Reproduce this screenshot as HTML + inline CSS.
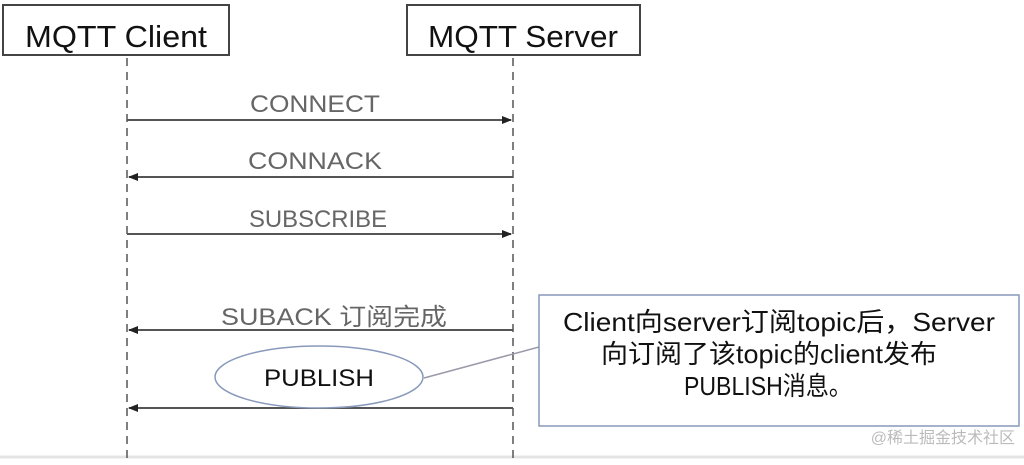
<!DOCTYPE html>
<html><head><meta charset="utf-8"><style>
body{margin:0;background:#fff;}
svg text{font-family:"Liberation Sans","Noto Sans CJK SC",sans-serif;}
</style></head><body>
<svg width="1024" height="460" viewBox="0 0 1024 460" xmlns="http://www.w3.org/2000/svg">
<defs><marker id="a" markerWidth="10" markerHeight="8" refX="9" refY="4" orient="auto" markerUnits="userSpaceOnUse"><path d="M0,0 L10,4 L0,8 z" fill="#222"/></marker></defs>
<rect x="0" y="0" width="1024" height="460" fill="#fff"/>
<line x1="0" y1="457" x2="1024" y2="457" stroke="#e4e4e4" stroke-width="3"/>
<rect x="3" y="5" width="226" height="50" fill="#fff" stroke="#444" stroke-width="2"/>
<text x="116" y="47" font-size="31" text-anchor="middle" fill="#111" textLength="182" lengthAdjust="spacingAndGlyphs">MQTT Client</text>
<rect x="407" y="5" width="233" height="50" fill="#fff" stroke="#444" stroke-width="2"/>
<text x="523" y="47" font-size="31" text-anchor="middle" fill="#111" textLength="190" lengthAdjust="spacingAndGlyphs">MQTT Server</text>
<line x1="127" y1="58" x2="127" y2="460" stroke="#555" stroke-width="1.5" stroke-dasharray="8,6"/>
<line x1="513" y1="58" x2="513" y2="460" stroke="#555" stroke-width="1.5" stroke-dasharray="8,6"/>
<g stroke="#555" stroke-width="2" marker-end="url(#a)">
<line x1="127" y1="120" x2="511" y2="120"/>
<line x1="513" y1="177" x2="129" y2="177"/>
<line x1="127" y1="234" x2="511" y2="234"/>
<line x1="513" y1="330" x2="129" y2="330"/>
<line x1="513" y1="408" x2="129" y2="408"/>
</g>
<g font-size="24" fill="#666" text-anchor="middle">
<text x="315" y="112" textLength="130" lengthAdjust="spacingAndGlyphs">CONNECT</text>
<text x="315" y="169" textLength="134" lengthAdjust="spacingAndGlyphs">CONNACK</text>
<text x="318" y="227" textLength="138" lengthAdjust="spacingAndGlyphs">SUBSCRIBE</text>
<text x="334" y="325" textLength="226" lengthAdjust="spacingAndGlyphs">SUBACK 订阅完成</text>
</g>
<ellipse cx="319" cy="377" rx="104" ry="31" fill="#fff" stroke="#8899bb" stroke-width="1.5"/>
<text x="319" y="386" font-size="24" text-anchor="middle" fill="#111" textLength="110" lengthAdjust="spacingAndGlyphs">PUBLISH</text>
<line x1="424" y1="378" x2="539" y2="347" stroke="#99a" stroke-width="1.5"/>
<rect x="539" y="295" width="480" height="131" fill="#fff" stroke="#8899bb" stroke-width="1.5"/>
<g font-size="26" fill="#111" text-anchor="middle">
<text x="779" y="331" textLength="432" lengthAdjust="spacingAndGlyphs">Client向server订阅topic后，Server</text>
<text x="769" y="363" textLength="336" lengthAdjust="spacingAndGlyphs">向订阅了该topic的client发布</text>
<text x="768" y="395" textLength="168" lengthAdjust="spacingAndGlyphs">PUBLISH消息。</text>
</g>
<text x="1015" y="443" font-size="16" fill="#bbb" text-anchor="end">@稀土掘金技术社区</text>
</svg>
</body></html>
